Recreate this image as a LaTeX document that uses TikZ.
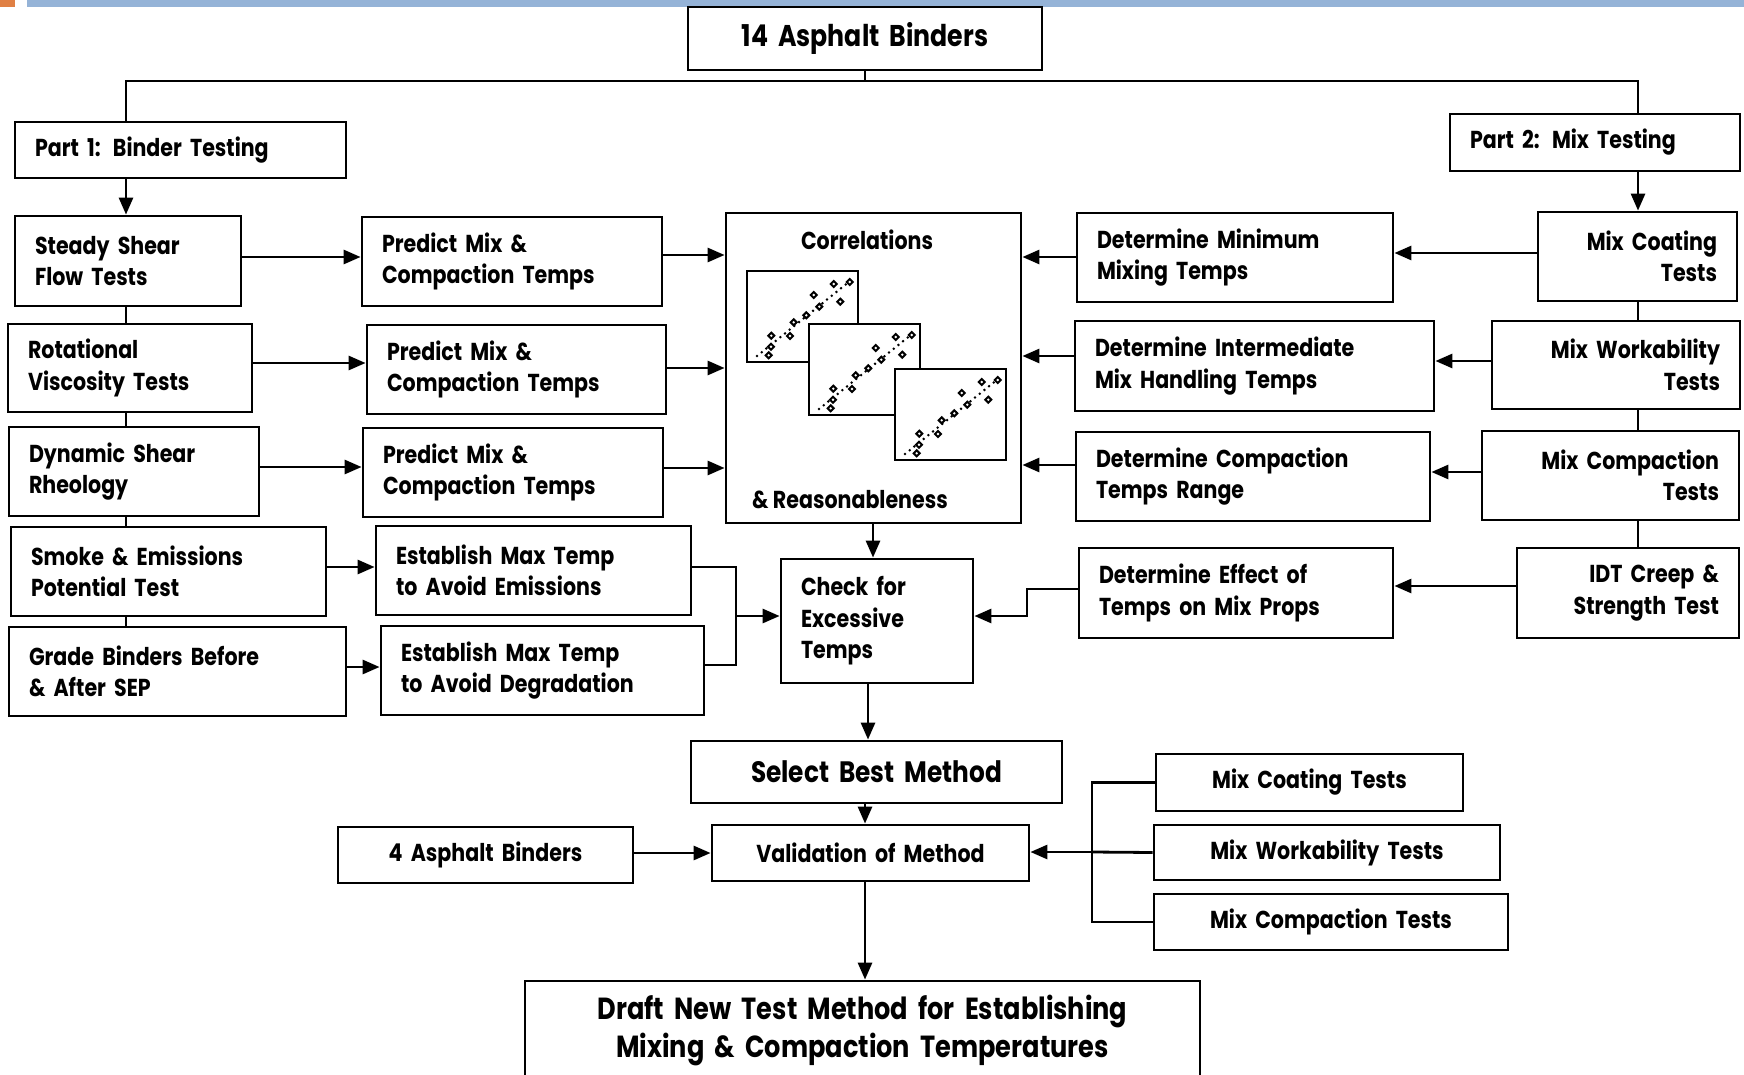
\documentclass[tikz,border=0pt]{standalone}
\usepackage{fontspec}
\setmainfont{Poppins}[FakeStretch=0.84]
\usetikzlibrary{arrows.meta}
\definecolor{barblue}{RGB}{149,179,215}
\definecolor{barorange}{RGB}{224,128,68}
\newcommand{\fsn}{\fontsize{24.5}{31.5}\selectfont\bfseries}
\newcommand{\fsb}{\fontsize{30}{36}\selectfont\bfseries}
\newcommand{\fss}{\fontsize{29.5}{36}\selectfont\bfseries}
\newcommand{\fsd}{\fontsize{30.5}{38}\selectfont\bfseries}
\tikzset{
  box/.style={draw, line width=2.8pt, inner xsep=20pt, inner ysep=0pt, fill=white},
  conn/.style={line width=2.8pt},
  arr/.style={line width=2.8pt, -{Triangle[length=17pt,width=14pt]}},
  plotframe/.style={line width=2.4pt, fill=white},
  trend/.style={line width=2.8pt, dash pattern=on 0pt off 6pt, line cap=round},
  pt/.style={line width=2pt, fill=white}
}
\newcommand{\boxnode}[8][\fsn]{%
  \pgfmathsetmacro{\bxw}{#5-#3}\pgfmathsetmacro{\bxh}{#6-#4}\pgfmathsetmacro{\bxt}{#5-#3-40}%
  \pgfmathsetmacro{\bxx}{(#3+#5)/2}\pgfmathsetmacro{\bxy}{(#4+#6)/2}%
  \node[box, font=#1, align=#7, minimum width=\bxw pt, minimum height=\bxh pt, text width=\bxt pt] (#2) at (\bxx,\bxy) {#8};}
\newcommand{\plotat}[2]{%
  \begin{scope}[shift={(#1,#2)}]
    \draw[plotframe] (0,0) rectangle (111,91);
    \draw[trend] (10,85) -- (103,10);
    \foreach \px/\py in {21.7/84.3,24/75.7,24.3/64.7,43/65,46.7/51.3,59.3/44.3,66.7/24,72.3/35.7,86.7/13,93.3/30.7,102.7/11}
      \draw[pt] (\px-3,\py) -- (\px,\py-3) -- (\px+3,\py) -- (\px,\py+3) -- cycle;
  \end{scope}}
\begin{document}
\begin{tikzpicture}[x=1pt,y=-1pt]
\useasboundingbox (0,0) rectangle (1744,1075);
\fill[barorange] (0,0) rectangle (15,7);
\fill[barblue] (27,0) rectangle (1744,7);

\boxnode[\fsb]{top}{688}{7}{1042}{70}{center}{\raisebox{-3pt}{14 Asphalt Binders}}
\boxnode{part1}{15}{122}{346}{178}{left}{Part 1: Binder Testing}
\boxnode{part2}{1450}{114}{1740}{171}{left}{Part 2: Mix Testing}

\boxnode{steady}{15}{216}{241}{306}{left}{Steady Shear\\Flow Tests}
\boxnode{rot}{8}{324}{252}{412}{left}{Rotational\\Viscosity Tests}
\boxnode{dyn}{9}{427}{259}{516}{left}{Dynamic Shear\\Rheology}
\boxnode{smoke}{11}{527}{326}{616}{left}{Smoke \& Emissions\\Potential Test}
\boxnode{grade}{9}{627}{346}{716}{left}{Grade Binders Before\\\& After SEP}

\boxnode{pred1}{362}{217}{662}{306}{left}{Predict Mix \&\\Compaction Temps}
\boxnode{pred2}{367}{325}{666}{414}{left}{Predict Mix \&\\Compaction Temps}
\boxnode{pred3}{363}{428}{663}{517}{left}{Predict Mix \&\\Compaction Temps}
\boxnode{est1}{376}{526}{691}{615}{left}{Establish Max Temp\\to Avoid Emissions}
\boxnode{est2}{381}{626}{704}{715}{left}{Establish Max Temp\\to Avoid Degradation}

\boxnode{corr}{726}{213}{1021}{523}{center}{}
\node[font=\fsn, anchor=base] (corrtitle) at (867,250) {Correlations};
\node[font=\fsn, anchor=base west, inner sep=0pt] (corrsub) at (752,508) {\& Reasonableness};
\plotat{747}{271}
\plotat{809}{324}
\plotat{895}{369}

\boxnode{detmin}{1077}{213}{1393}{302}{left}{Determine Minimum\\Mixing Temps}
\boxnode{detint}{1075}{321}{1434}{411}{left}{Determine Intermediate\\Mix Handling Temps}
\boxnode{detcomp}{1076}{432}{1430}{521}{left}{Determine Compaction\\Temps Range}
\boxnode{deteff}{1079}{548}{1393}{638}{left}{Determine Effect of\\Temps on Mix Props}

\boxnode{mixcoat}{1538}{212}{1737}{301}{right}{Mix Coating\\Tests}
\boxnode{mixwork}{1492}{321}{1740}{409}{right}{Mix Workability\\Tests}
\boxnode{mixcomp}{1482}{431}{1739}{520}{right}{Mix Compaction\\Tests}
\boxnode{idt}{1517}{548}{1739}{638}{right}{IDT Creep \&\hspace*{8pt}\\Strength Test}

\boxnode{check}{781}{559}{973}{683}{left}{Check for\\Excessive\\Temps}
\boxnode[\fss]{select}{691}{741}{1062}{803}{center}{Select Best Method}
\boxnode{four}{338}{827}{633}{883}{center}{4 Asphalt Binders}
\boxnode{valid}{712}{825}{1029}{881}{center}{Validation of Method}
\boxnode{mct}{1156}{754}{1463}{811}{center}{Mix Coating Tests}
\boxnode{mwt}{1154}{825}{1500}{880}{center}{Mix Workability Tests}
\boxnode{mcpt}{1154}{894}{1508}{950}{center}{Mix Compaction Tests}
\boxnode[\fsd]{draft}{525}{981}{1200}{1080}{center}{Draft New Test Method for Establishing\\Mixing \& Compaction Temperatures}

% coordinates for trunk lines
\coordinate (cl) at (126,81);
\coordinate (cr) at (1638,81);
\coordinate (jl) at (736,616);
\coordinate (jr) at (1092,852);

% top distribution
\draw[conn] (top.south) -- (top.south |- cl);
\draw[conn] (part1.north -| cl) -- (cl) -- (cr) -- (part2.north -| cr);
\draw[arr] (part1.south -| cl) -- (steady.north -| cl);
\draw[arr] (part2.south -| cr) -- (mixcoat.north -| cr);

% left column
\draw[conn] (steady.south -| cl) -- (rot.north -| cl);
\draw[conn] (rot.south -| cl) -- (dyn.north -| cl);
\draw[conn] (dyn.south -| cl) -- (smoke.north -| cl);
\draw[conn] (smoke.south -| cl) -- (grade.north -| cl);

% right column
\draw[conn] (mixcoat.south -| cr) -- (mixwork.north -| cr);
\draw[conn] (mixwork.south -| cr) -- (mixcomp.north -| cr);
\draw[conn] (mixcomp.south -| cr) -- (idt.north -| cr);

% binder tests to predictions
\draw[arr] (steady.east |- 0,257) -- (pred1.west |- 0,257);
\draw[arr] (rot.east |- 0,363) -- (pred2.west |- 0,363);
\draw[arr] (dyn.east |- 0,467) -- (pred3.west |- 0,467);
\draw[arr] (smoke.east |- 0,567) -- (est1.west |- 0,567);
\draw[arr] (grade.east |- 0,667) -- (est2.west |- 0,667);

% predictions to correlations
\draw[arr] (pred1.east |- 0,255) -- (corr.west |- 0,255);
\draw[arr] (pred2.east |- 0,368) -- (corr.west |- 0,368);
\draw[arr] (pred3.east |- 0,468) -- (corr.west |- 0,468);

% mix tests to determinations
\draw[arr] (mixcoat.west |- 0,253) -- (detmin.east |- 0,253);
\draw[arr] (mixwork.west |- 0,361) -- (detint.east |- 0,361);
\draw[arr] (mixcomp.west |- 0,472) -- (detcomp.east |- 0,472);
\draw[arr] (idt.west |- 0,586) -- (deteff.east |- 0,586);

% determinations to correlations
\draw[arr] (detmin.west |- 0,257) -- (corr.east |- 0,257);
\draw[arr] (detint.west |- 0,356) -- (corr.east |- 0,356);
\draw[arr] (detcomp.west |- 0,465) -- (corr.east |- 0,465);

% establish max temps to check
\draw[conn] (est1.east |- 0,567) -| (jl);
\draw[conn] (est2.east |- 0,665) -| (jl);
\draw[arr] (jl) -- (check.west |- jl);

% effect to check
\draw[arr] (deteff.west |- 0,589) -- (1027,589) |- (check.east |- jl);

% central chain
\draw[arr] (corr.south -| 873,0) -- (check.north -| 873,0);
\draw[arr] (check.south -| 868,0) -- (select.north -| 868,0);
\draw[arr] (select.south -| 865,0) -- (valid.north -| 865,0);
\draw[arr] (four.east |- 0,853) -- (valid.west |- 0,853);
\draw[arr] (valid.south -| 865,0) -- (draft.north -| 865,0);

% validation mix tests
\draw[conn] (mct.west) -| (jr);
\draw[conn] (mcpt.west) -| (jr);
\draw[conn] (mwt.west) -- (jr);
\draw[arr] (jr) -- (valid.east |- jr);
\end{tikzpicture}
\end{document}
